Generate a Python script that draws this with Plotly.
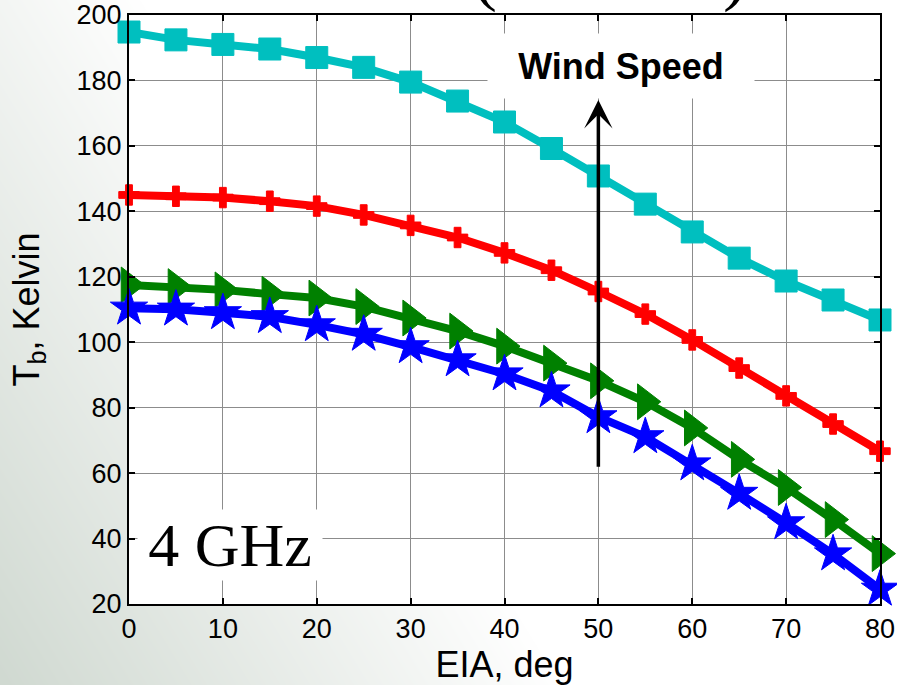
import base64
import struct
import zlib

import numpy as np
import plotly.graph_objects as go

# Earth incidence angle (deg)
eia = [0, 5, 10, 15, 20, 25, 30, 35, 40, 45, 50, 55, 60, 65, 70, 75, 80]

# Brightness temperature (K) for four wind speeds, lowest to highest
tb_wind1 = [110.4, 110.1, 109.0, 107.8, 105.3, 102.4, 98.6, 94.6, 90.3, 85.1,
            77.2, 71.1, 62.8, 53.8, 44.8, 35.3, 24.5]
tb_wind2 = [117.5, 117.0, 116.0, 114.7, 113.5, 110.9, 107.4, 103.4, 98.8, 93.6,
            88.2, 81.8, 73.8, 64.2, 55.6, 45.8, 35.4]
tb_wind3 = [145.0, 144.6, 144.2, 143.1, 141.6, 138.9, 135.7, 132.0, 127.3, 122.0,
            115.5, 108.6, 100.7, 92.1, 83.6, 75.0, 66.7]
tb_wind4 = [194.8, 192.4, 191.0, 189.6, 187.0, 184.0, 179.5, 173.7, 167.3, 159.2,
            150.8, 142.2, 133.7, 125.7, 118.7, 112.9, 106.8]

x_ticks = [0, 10, 20, 30, 40, 50, 60, 70, 80]
y_ticks = [20, 40, 60, 80, 100, 120, 140, 160, 180, 200]

W, H = 897, 685
ML, MR, MT, MB = 129, 17, 15, 81
PW, PH = W - ML - MR, H - MT - MB


def gradient_png(w, h):
    """Soft slide background: grey-green at the lower left fading to white."""
    xs = np.linspace(0, 1, w)[None, :]
    ys = np.linspace(0, 1, h)[:, None]
    t = np.clip(xs * 1.6 + ys * 0.75, 0, 1)
    dark = np.array([0xd0, 0xd9, 0xd1], dtype=float)
    white = np.array([255.0, 255.0, 255.0])
    img = dark[None, None, :] + (white - dark)[None, None, :] * t[:, :, None]
    img = img[::-1].astype(np.uint8)  # row 0 is the top
    raw = b"".join(b"\x00" + img[i].tobytes() for i in range(h))

    def chunk(tag, data):
        c = struct.pack(">I", len(data)) + tag + data
        return c + struct.pack(">I", zlib.crc32(tag + data) & 0xFFFFFFFF)

    png = (b"\x89PNG\r\n\x1a\n"
           + chunk(b"IHDR", struct.pack(">IIBBBBB", w, h, 8, 2, 0, 0, 0))
           + chunk(b"IDAT", zlib.compress(raw, 9))
           + chunk(b"IEND", b""))
    return "data:image/png;base64," + base64.b64encode(png).decode()


fig = go.Figure()

series = [
    (tb_wind4, "#00BFBF", "square", 22),
    (tb_wind3, "#FF0000", "cross", 17),
    (tb_wind2, "#008000", "triangle-right", 31),
    (tb_wind1, "#0000FF", "star", 28),
]
for values, color, symbol, size in series:
    fig.add_trace(go.Scatter(
        x=eia, y=values, mode="lines+markers",
        line=dict(color=color, width=8),
        marker=dict(symbol=symbol, size=size, color=color,
                    line=dict(color=color, width=1)),
        cliponaxis=False, showlegend=False,
    ))

axis_common = dict(
    showline=True, linecolor="black", linewidth=2, mirror="ticks",
    ticks="inside", ticklen=6, tickwidth=1.5, tickcolor="black",
    showgrid=True, gridcolor="#8c8c8c", gridwidth=1, zeroline=False,
    automargin=False,
    tickfont=dict(family="Liberation Sans, Arial", size=27, color="black"),
)

fig.update_xaxes(
    range=[0, 80], tickvals=x_ticks,
    title=dict(text="EIA, deg", standoff=4,
               font=dict(family="Liberation Sans, Arial", size=36, color="black")),
    **axis_common,
)
fig.update_yaxes(
    range=[20, 200], tickvals=y_ticks,
    title=dict(text="T<sub>b</sub>, Kelvin", standoff=26,
               font=dict(family="Liberation Sans, Arial", size=36, color="black")),
    **axis_common,
)

# Wind-speed direction arrow
fig.add_annotation(
    x=50, y=174, ax=50, ay=61.5, xref="x", yref="y", axref="x", ayref="y",
    text="", showarrow=True, arrowhead=3, arrowsize=1.35, arrowwidth=3.5,
    arrowcolor="black", standoff=0,
)
fig.add_annotation(
    x=52.4, y=184.4, xref="x", yref="y", text="<b>Wind Speed</b>",
    showarrow=False, bgcolor="white", width=266, height=64, borderpad=0,
    font=dict(family="Liberation Sans, Arial", size=36, color="black"),
)
fig.add_annotation(
    x=10.8, y=38.0, xref="x", yref="y", text="4 GHz",
    showarrow=False, bgcolor="white", width=184, height=70, borderpad=0,
    font=dict(family="Liberation Serif, Times New Roman", size=62, color="black"),
)
# Brackets of the heading above the axes
for xpos, ch in [(37.9, "("), (64.6, ")")]:
    fig.add_annotation(
        x=xpos, y=1 + 1 / PH, xref="x", yref="paper", yanchor="bottom",
        text=ch, showarrow=False, borderpad=0,
        font=dict(family="Liberation Serif, Times New Roman", size=72, color="black"),
    )

fig.update_layout(
    width=W, height=H,
    margin=dict(l=ML, r=MR, t=MT, b=MB, autoexpand=False),
    paper_bgcolor="white", plot_bgcolor="white",
    images=[dict(source=gradient_png(W, H), xref="paper", yref="paper",
                 x=-ML / PW, y=1 + MT / PH, sizex=W / PW, sizey=H / PH,
                 xanchor="left", yanchor="top", sizing="stretch", layer="below")],
    shapes=[dict(type="rect", xref="paper", yref="paper", x0=0, x1=1, y0=0, y1=1,
                 fillcolor="white", line=dict(width=0), layer="below")],
)

fig.write_html("out.html")
